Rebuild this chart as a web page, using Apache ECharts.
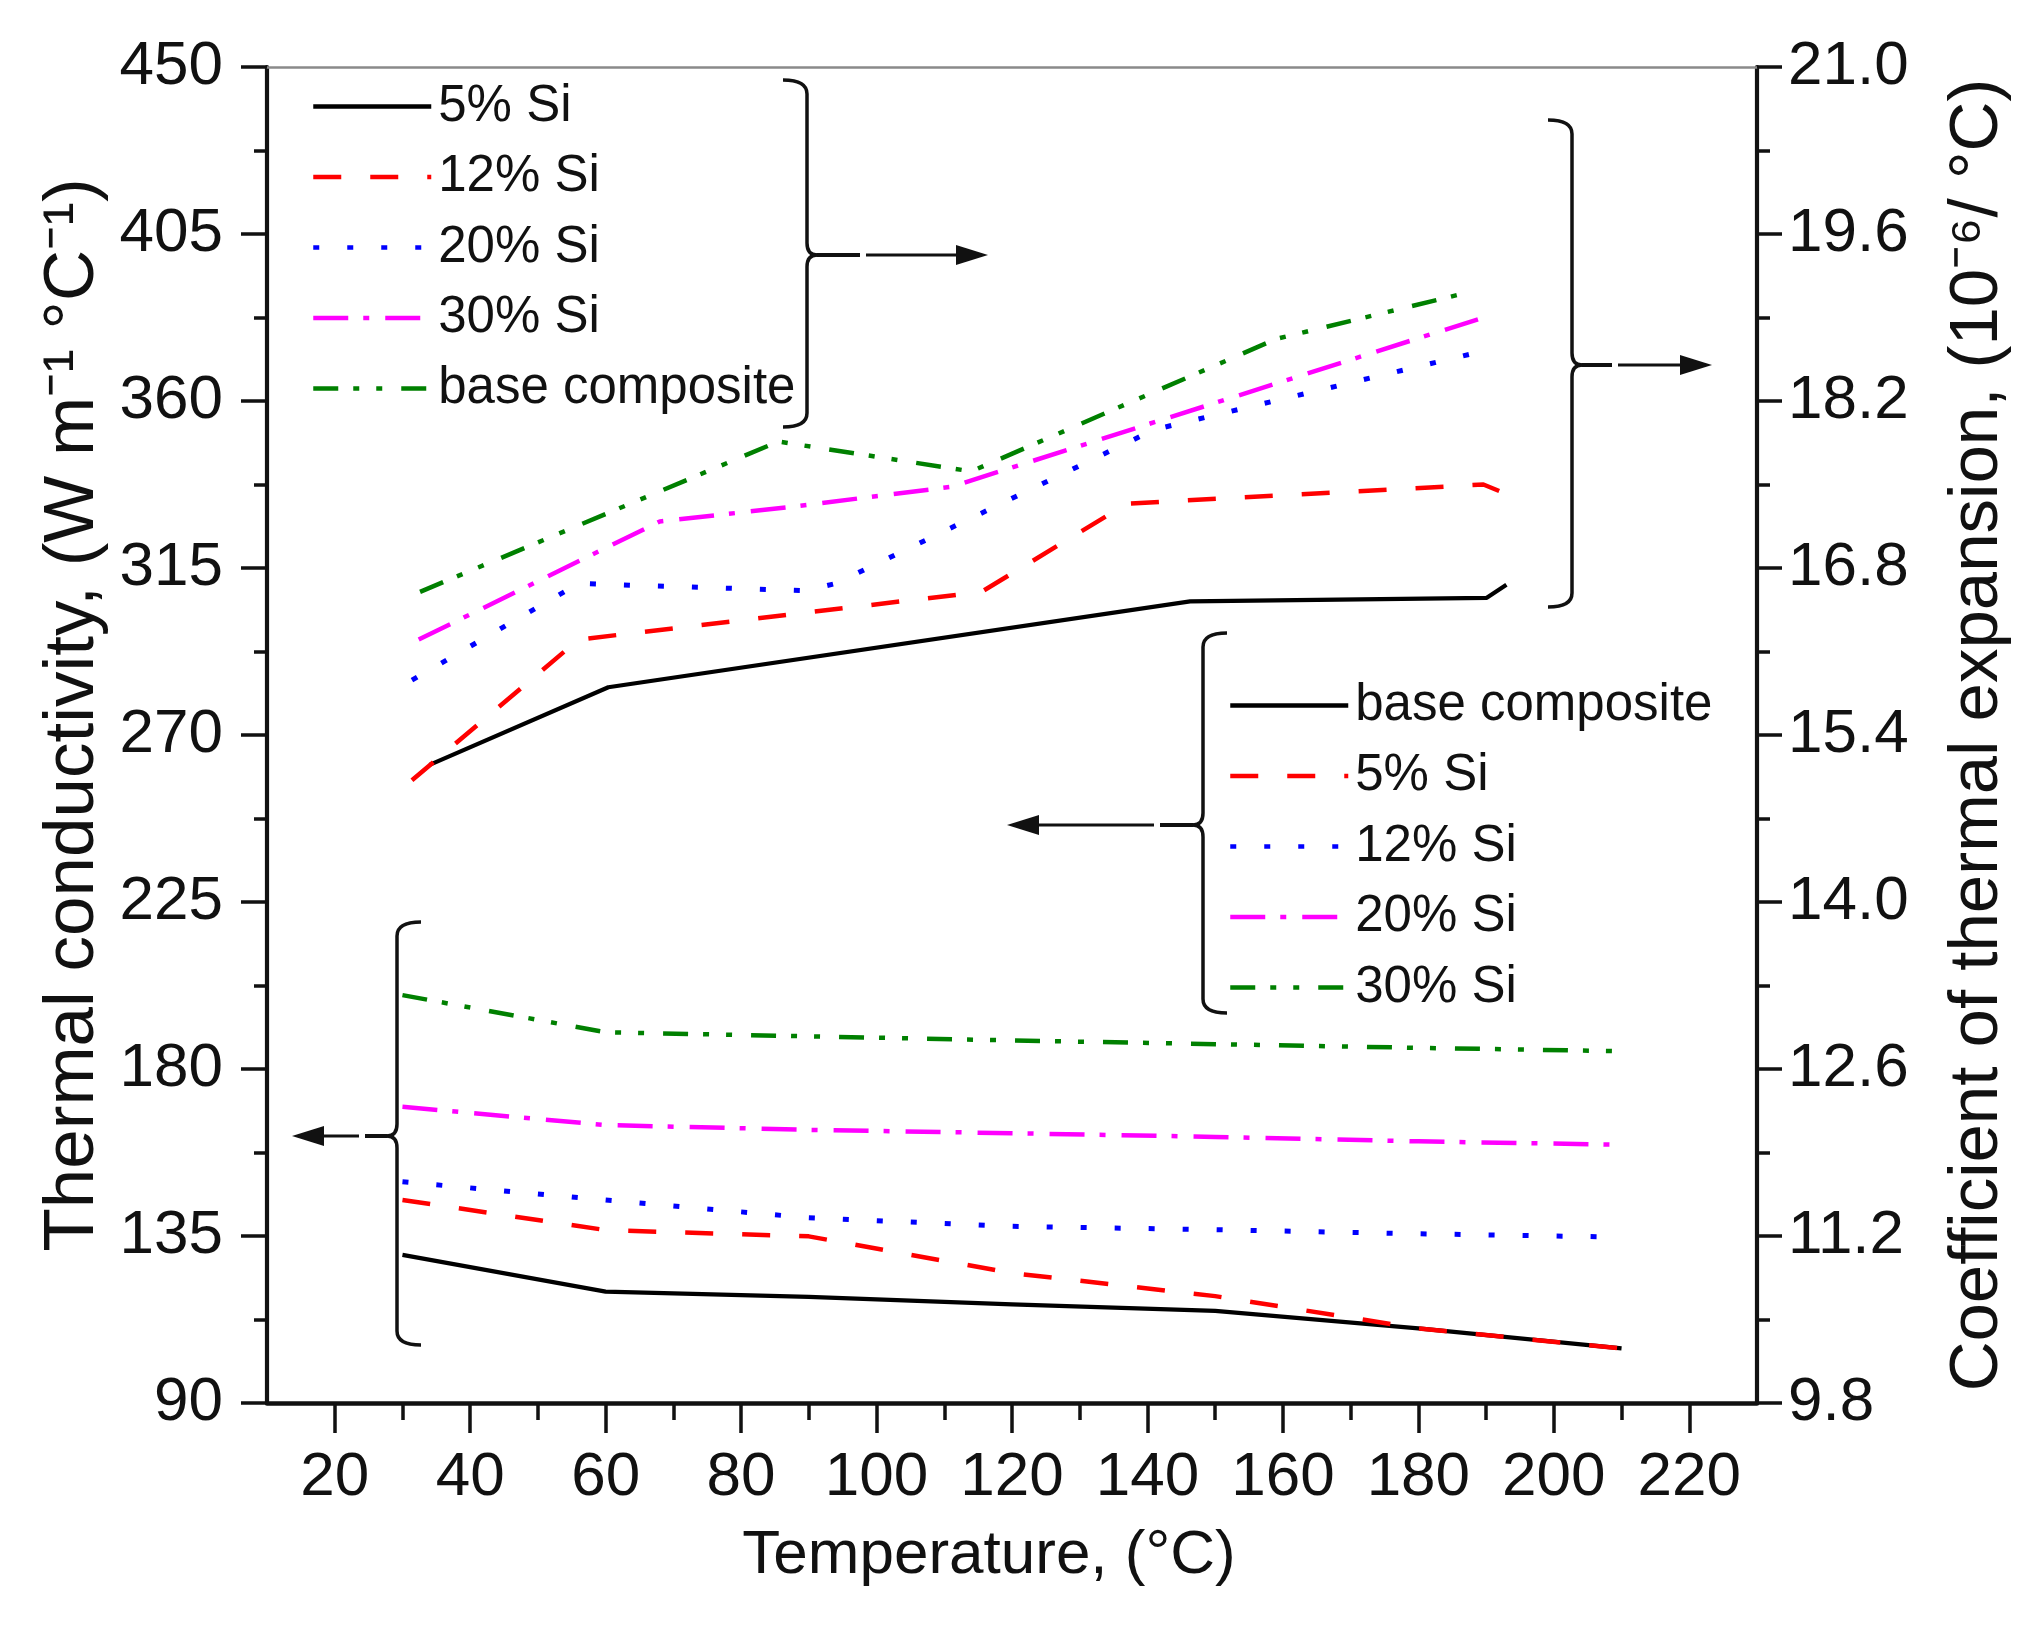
<!DOCTYPE html>
<html>
<head>
<meta charset="utf-8">
<script src="https://cdn.jsdelivr.net/npm/echarts@6.0.0/dist/echarts.min.js"></script>
<style>
html,body{margin:0;padding:0;background:#fff;}
#chart{width:2041px;height:1627px;}
</style>
</head>
<body>
<div id="chart"></div>
<script>
// ---------- tick labels ----------
const xTickLabels = [20, 40, 60, 80, 100, 120, 140, 160, 180, 200, 220];
const xMinorTickValues = [30, 50, 70, 90, 110, 130, 150, 170, 190, 210];
const xRange = [10, 230];
const tcTickLabels = [90, 135, 180, 225, 270, 315, 360, 405, 450];
const cteTickLabels = [9.8, 11.2, 12.6, 14.0, 15.4, 16.8, 18.2, 19.6, 21.0];

// ---------- thermal conductivity (left axis) ----------
const tcTemps = [30, 60, 90, 120, 150, 180, 210];
const tcBaseComposite = [129.9, 120.0, 118.6, 116.6, 114.8, 110.1, 104.7];
const tc5Si  = [144.7, 136.6, 134.9, 125.0, 118.8, 110.1, 104.7];
const tc12Si = [149.6, 144.7, 139.9, 137.6, 136.7, 135.6, 134.7];
const tc20Si = [169.8, 164.9, 163.6, 162.7, 161.7, 160.5, 159.6];
const tc30Si = [199.9, 189.9, 188.8, 187.7, 186.7, 185.7, 184.8];

// ---------- coefficient of thermal expansion (right axis) ----------
const cte5SiTemps  = [34, 60.4, 146.3, 190.1, 193.0];
const cte5SiVals   = [15.15, 15.80, 16.52, 16.55, 16.66];
const cte12SiTemps = [31.4, 56, 115.5, 137, 189.6, 195.2];
const cte12SiVals  = [15.02, 16.20, 16.60, 17.34, 17.50, 17.37];
const cte20SiTemps = [31.4, 56, 89.5, 94, 141, 190.4];
const cte20SiVals  = [15.86, 16.67, 16.61, 16.67, 17.96, 18.63];
const cte30SiTemps = [32.4, 68, 87, 111, 188.8];
const cte30SiVals  = [16.20, 17.19, 17.31, 17.48, 18.885];
const cteBaseTemps = [32.6, 85.5, 114, 159, 186.6];
const cteBaseVals  = [16.60, 17.86, 17.61, 18.72, 19.10];

const tcNames  = ['base composite', '5% Si', '12% Si', '20% Si', '30% Si'];
const cteNames = ['5% Si', '12% Si', '20% Si', '30% Si', 'base composite'];

// ---------- styles ----------
const lineStyles = [
  {color: '#000000', type: 'solid', width: 4.2},
  {color: '#ff0000', type: [28, 29], width: 4.5},
  {color: '#0000ff', type: [6, 28], width: 5},
  {color: '#ff00ff', type: [35, 15, 6, 16], width: 4.5},
  {color: '#008000', type: [25, 15, 6, 17, 6, 19], width: 4.5}
];

function zip(xs, ys) { return xs.map((x, i) => [x, ys[i]]); }

const tcSets = [tcBaseComposite, tc5Si, tc12Si, tc20Si, tc30Si];
const cteSets = [
  zip(cte5SiTemps, cte5SiVals),
  zip(cte12SiTemps, cte12SiVals),
  zip(cte20SiTemps, cte20SiVals),
  zip(cte30SiTemps, cte30SiVals),
  zip(cteBaseTemps, cteBaseVals)
];

const series = [];
tcSets.forEach((vals, i) => {
  series.push({
    name: 'TC|' + tcNames[i], type: 'line', xAxisIndex: 0, yAxisIndex: 0,
    data: zip(tcTemps, vals), symbol: 'none', smooth: false,
    lineStyle: {color: lineStyles[i].color, type: lineStyles[i].type, width: lineStyles[i].width, cap: 'butt', join: 'round'},
    itemStyle: {color: lineStyles[i].color}, z: 3
  });
});
cteSets.forEach((pts, i) => {
  series.push({
    name: 'CTE|' + cteNames[i], type: 'line', xAxisIndex: 0, yAxisIndex: 1,
    data: pts, symbol: 'none', smooth: false,
    lineStyle: {color: lineStyles[i].color, type: lineStyles[i].type, width: lineStyles[i].width, cap: 'butt', join: 'round'},
    itemStyle: {color: lineStyles[i].color}, z: 3
  });
});

const tickFont = "'Liberation Sans', Arial, sans-serif";
const titleFont = "'Liberation Sans', Arial, sans-serif";
const stripName = n => n.split('|')[1];

function legendCfg(names, prefix, left, top) {
  return {
    orient: 'vertical', left: left, top: top,
    itemWidth: 118, itemHeight: 4, itemGap: 19.5,
    selectedMode: false,
    data: names.map(n => prefix + n),
    formatter: stripName,
    itemStyle: {opacity: 0},
    lineStyle: {width: 4.5},
    textStyle: {fontSize: 51, fontFamily: titleFont, color: '#111', padding: [12, 0, 0, 2]}
  };
}

// ---------- annotation braces / arrows (pixel layout) ----------
const strokeSty = {stroke: '#111', lineWidth: 3.5, fill: null};
function seg(x1, y1, x2, y2) {
  return {type: 'line', shape: {x1, y1, x2, y2}, style: strokeSty};
}
function curve(x1, y1, cx, cy, x2, y2) {
  return {type: 'bezierCurve', shape: {x1, y1, x2, y2, cpx1: cx, cpy1: cy}, style: strokeSty};
}
// dir = +1 : "}" (cusp to the right), dir = -1 : "{" (cusp to the left)
function brace(x0, top, bot, yc, dir) {
  const h = 24, r = 14, r2 = 12, c = 10;
  return [
    curve(x0 - dir * h, top, x0, top, x0, top + r),
    seg(x0, top + r, x0, yc - r2),
    curve(x0, yc - r2, x0, yc, x0 + dir * c, yc),
    curve(x0 + dir * c, yc, x0, yc, x0, yc + r2),
    seg(x0, yc + r2, x0, bot - r),
    curve(x0, bot - r, x0, bot, x0 - dir * h, bot)
  ];
}
function arrow(x1, x2, y, gapAt) {
  const dir = x2 > x1 ? 1 : -1;
  const head = 32, hw = 10;
  return [
    {type: 'line', shape: {x1: x1, y1: y, x2: gapAt, y2: y}, style: {stroke: '#111', lineWidth: 4}},
    {type: 'line', shape: {x1: gapAt + dir * 6, y1: y, x2: x2 - dir * head, y2: y}, style: {stroke: '#111', lineWidth: 3}},
    {type: 'polygon', shape: {points: [[x2, y], [x2 - dir * head, y - hw], [x2 - dir * head, y + hw]]}, style: {fill: '#111'}}
  ];
}

const graphics = [
  ...brace(807, 80, 427, 255, 1),
  ...arrow(817, 988, 255, 860),
  ...brace(1572, 120, 607, 365, 1),
  ...arrow(1582, 1712, 365, 1612),
  ...brace(1203, 633, 1013, 825, -1),
  ...arrow(1193, 1007, 825, 1160),
  ...brace(397, 922, 1345, 1136, -1),
  ...arrow(387, 292, 1136, 365)
];

const chart = echarts.init(document.getElementById('chart'), null, {renderer: 'canvas'});
chart.setOption({
  animation: false,
  backgroundColor: '#ffffff',
  grid: {left: 267, right: 284, top: 67, bottom: 224, containLabel: false},
  legend: [
    legendCfg(cteNames, 'CTE|', 306, 76),
    legendCfg(tcNames, 'TC|', 1223, 675)
  ],
  xAxis: [
    {
      type: 'value', min: xRange[0], max: xRange[1], interval: 10, position: 'bottom',
      name: 'Temperature, (°C)', nameLocation: 'middle', nameGap: 122,
      nameTextStyle: {fontSize: 62, fontFamily: titleFont, color: '#111', padding: [0, 46, 0, 0]},
      axisLine: {show: true, lineStyle: {color: '#111', width: 4.5}},
      axisTick: {show: true, inside: false, length: 30, customValues: xTickLabels, lineStyle: {color: '#111', width: 3.5}},
      axisLabel: {show: true, customValues: xTickLabels, margin: 44, fontSize: 62, fontFamily: tickFont, color: '#111'},
      splitLine: {show: false}
    },
    {
      type: 'value', min: xRange[0], max: xRange[1], interval: 10, position: 'bottom',
      axisLine: {show: false},
      axisTick: {show: true, inside: false, length: 17, customValues: xMinorTickValues, lineStyle: {color: '#111', width: 3.5}},
      axisLabel: {show: false},
      splitLine: {show: false}
    },
    {
      type: 'value', min: xRange[0], max: xRange[1], position: 'top',
      axisLine: {show: true, onZero: false, lineStyle: {color: '#8a8a8a', width: 2.5}},
      axisTick: {show: false}, axisLabel: {show: false}, splitLine: {show: false}
    }
  ],
  yAxis: [
    {
      type: 'value', position: 'left',
      min: tcTickLabels[0], max: tcTickLabels[tcTickLabels.length - 1],
      interval: tcTickLabels[1] - tcTickLabels[0],
      name: 'Thermal conductivity, (W m⁻¹ °C⁻¹)', nameLocation: 'middle', nameRotate: 90, nameGap: 141,
      nameTextStyle: {fontSize: 71, fontFamily: titleFont, color: '#111', padding: [0, 0, 0, 40]},
      axisLine: {show: true, onZero: false, lineStyle: {color: '#111', width: 4.2}},
      axisTick: {show: true, inside: false, length: 26, lineStyle: {color: '#111', width: 3.5}},
      minorTick: {show: true, splitNumber: 2, length: 13, lineStyle: {color: '#111', width: 3.5}},
      axisLabel: {margin: 44, fontSize: 62, fontFamily: tickFont, color: '#111'},
      splitLine: {show: false}, minorSplitLine: {show: false}
    },
    {
      type: 'value', position: 'right',
      min: cteTickLabels[0], max: cteTickLabels[cteTickLabels.length - 1],
      interval: Number((cteTickLabels[1] - cteTickLabels[0]).toFixed(1)),
      name: 'Coefficient of thermal expansion, (10⁻⁶/ °C)', nameLocation: 'middle', nameRotate: 90, nameGap: 186,
      nameTextStyle: {fontSize: 69, fontFamily: titleFont, color: '#111'},
      axisLine: {show: true, onZero: false, lineStyle: {color: '#111', width: 4.2}},
      axisTick: {show: true, inside: false, length: 25, lineStyle: {color: '#111', width: 3.5}},
      minorTick: {show: true, splitNumber: 2, length: 13, lineStyle: {color: '#111', width: 3.5}},
      axisLabel: {margin: 31, fontSize: 62, fontFamily: tickFont, color: '#111', formatter: v => v.toFixed(1)},
      splitLine: {show: false}, minorSplitLine: {show: false}
    }
  ],
  series: series,
  graphic: {elements: graphics}
});
</script>
</body>
</html>
